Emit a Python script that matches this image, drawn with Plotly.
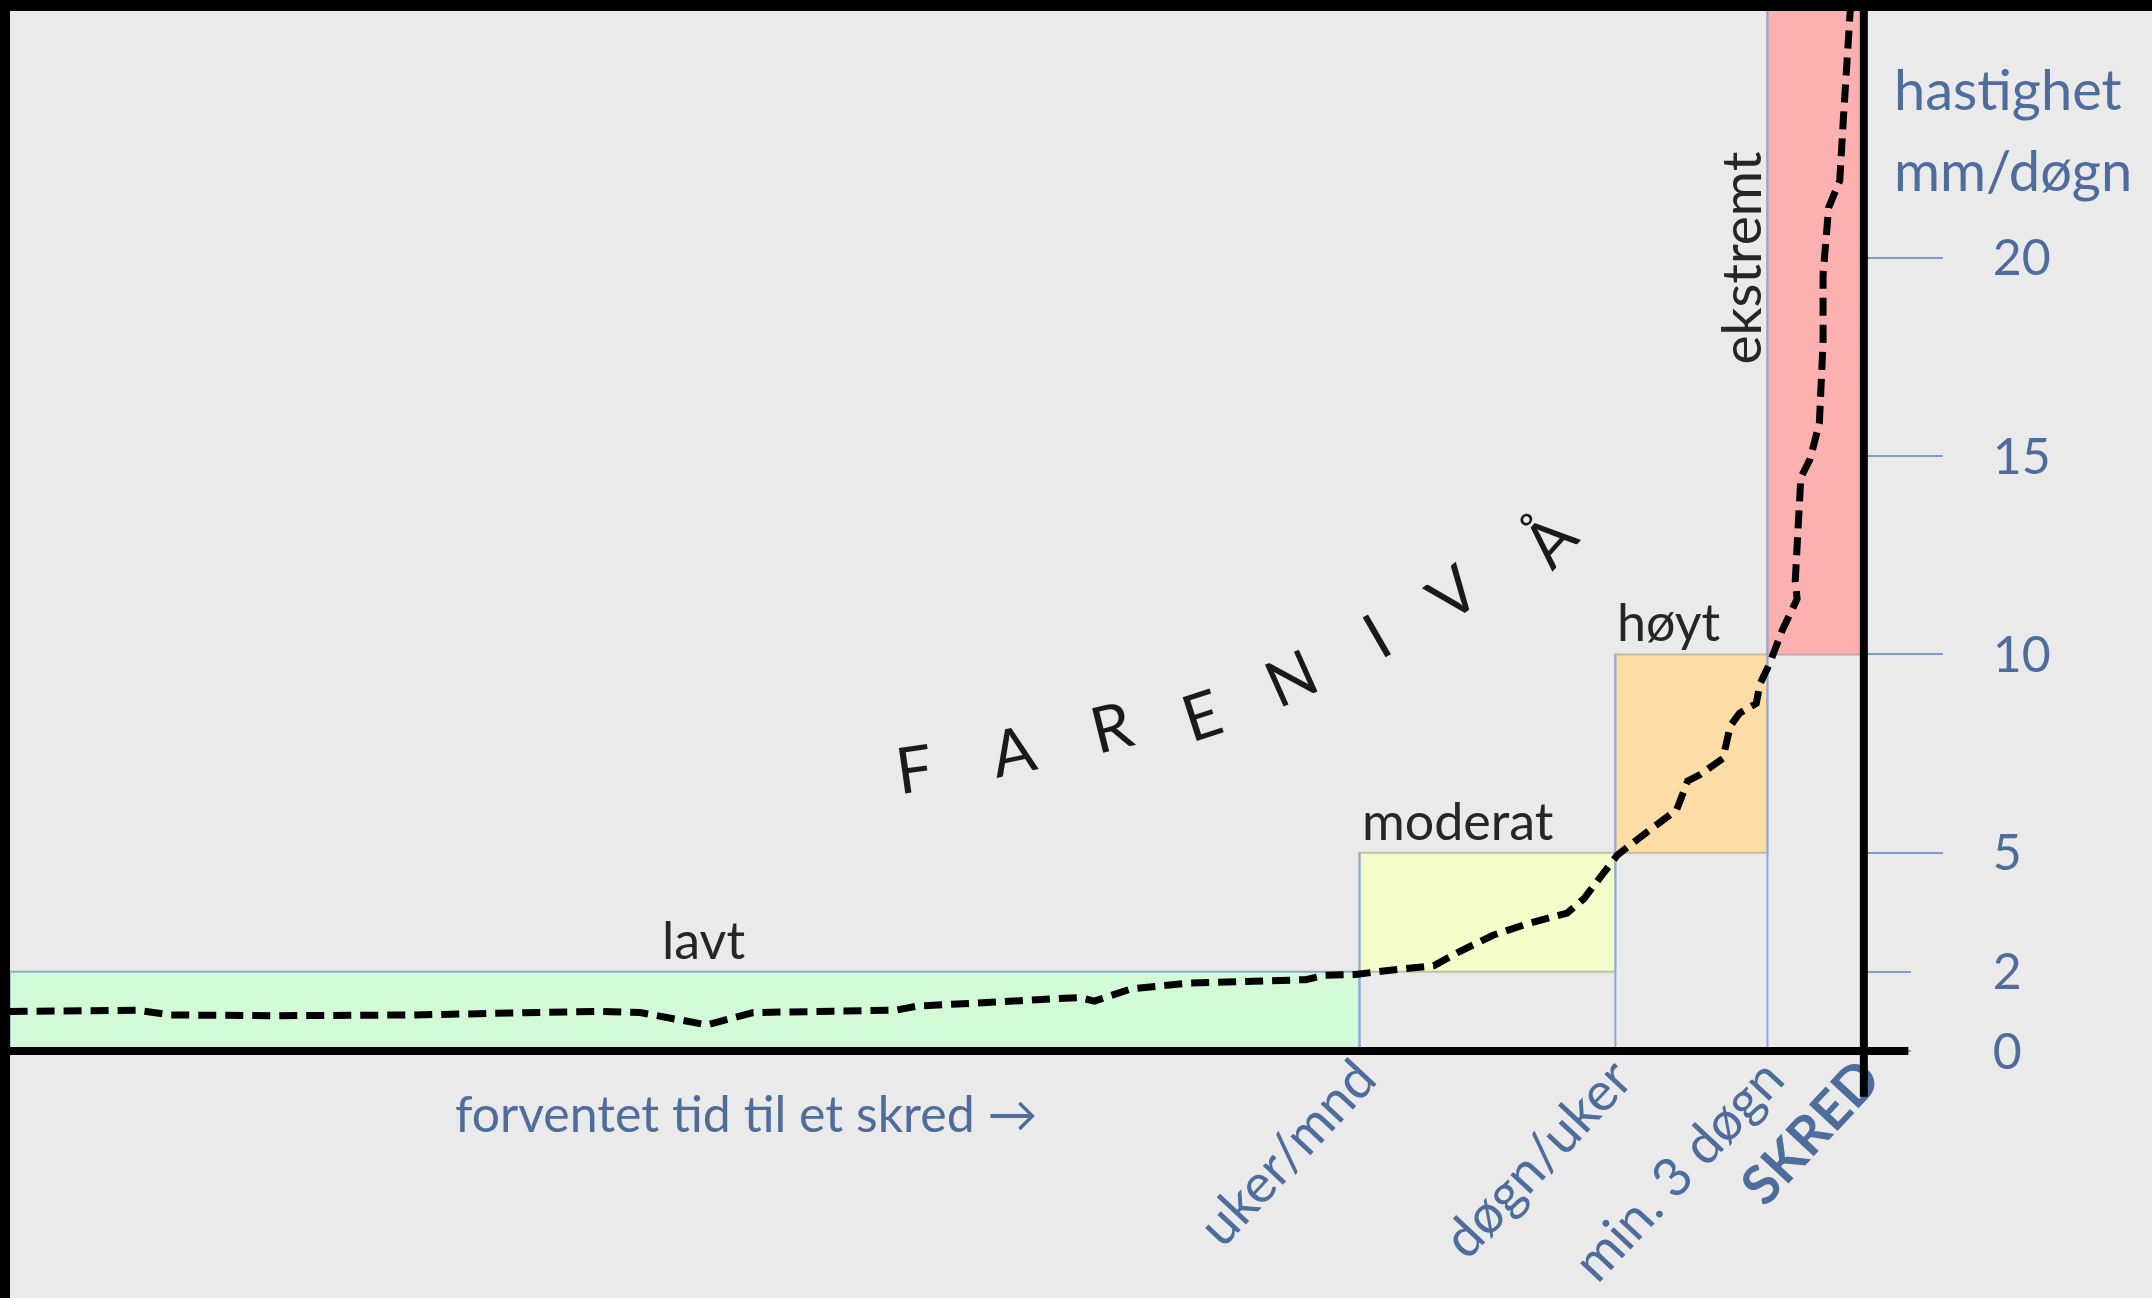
import plotly.graph_objects as go

# farenivå-boksene
levels = ["lavt", "moderat", "høyt", "ekstremt"]
level_x0 = [0, 72.8, 86.6, 94.8]
level_x1 = [72.8, 86.6, 94.8, 100]
level_lo = [0, 2, 5, 10]
level_hi = [2, 5, 10, 27]

# forventet tid til skred (x-aksen)
time_pos = [72.8, 86.6, 94.8, 100]
time_labels = ["uker/mnd", "døgn/uker", "min. 3 døgn", "<b>SKRED</b>"]

# hastighet mm/døgn (y-aksen)
speed_major = [5, 10, 15, 20]
speed_minor = [0, 2]

# forskyvningskurve
curve_x = [0, 6.9, 8.7, 14.3, 21.7, 31.8, 34.0, 37.6, 40.1, 47.8, 48.9, 57.7, 58.5, 60.5,
           63.5, 69.9, 70.9, 72.6, 74.1, 76.8, 78.2, 80.0, 81.8, 84.0, 84.9, 86.7, 88.5,
           89.9, 90.5, 91.2, 92.4, 92.8, 93.3, 94.2, 94.4, 94.9, 95.6, 96.4, 96.3, 96.6,
           97.1, 97.6, 97.8, 97.8, 98.1, 98.7, 98.9, 99.1, 99.3]
curve_y = [1.00, 1.03, 0.91, 0.89, 0.91, 1.00, 0.97, 0.66, 0.97, 1.03, 1.13, 1.35, 1.26, 1.57,
           1.71, 1.80, 1.91, 1.93, 2.02, 2.15, 2.51, 2.92, 3.20, 3.48, 3.84, 4.94, 5.59,
           6.08, 6.81, 6.98, 7.38, 8.20, 8.52, 8.77, 9.26, 9.75, 10.61, 11.40, 11.85, 14.46,
           14.93, 15.83, 17.88, 19.57, 21.27, 21.95, 23.54, 25.25, 26.49]

title_letters = ["F", "A", "R", "E", "N", "I", "V", "Å"]

FONT = "Lato"
BLUE_TXT = "#4f6d9c"
BLUE_LINE = "#8ea8d8"
fills = ["#d3fad6", "#f4fcc9", "#fddca6", "#fcb0b0"]
edges = [BLUE_LINE, "#b9c3a6", "#c8b89c", "#c7a7ad"]

XR = [-0.518, 115.54]
YR = [-6.228, 26.505]
x_frac = (100 - XR[0]) / (XR[1] - XR[0])
y_frac = (0 - YR[0]) / (YR[1] - YR[0])

fig = go.Figure()

fig.add_trace(go.Scatter(x=curve_x, y=curve_y, mode="lines",
                         line=dict(color="black", width=7, dash="18px,9px"),
                         hoverinfo="skip", showlegend=False))
# tom trace slik at den andre y-aksen (0 og 2) blir tegnet
fig.add_trace(go.Scatter(x=[None], y=[None], yaxis="y2", mode="lines",
                         hoverinfo="skip", showlegend=False))

# boksene
for i in range(len(levels)):
    fig.add_shape(type="rect", xref="x", yref="y", x0=level_x0[i], x1=level_x1[i],
                  y0=level_lo[i], y1=level_hi[i], fillcolor=fills[i],
                  line=dict(color=edges[i], width=2), layer="below")
for i in range(1, len(levels)):
    fig.add_shape(type="line", xref="x", yref="y", x0=level_x0[i], x1=level_x0[i],
                  y0=0, y1=level_hi[i], line=dict(color=BLUE_LINE, width=2), layer="below")

# akselinjer
fig.add_shape(type="line", xref="x", yref="y", x0=XR[0], x1=102.4, y0=0, y1=0,
              line=dict(color="black", width=8), layer="above")
fig.add_shape(type="line", xref="x", yref="y", x0=100, x1=100, y0=-1.15, y1=YR[1],
              line=dict(color="black", width=8), layer="above")
# ramme øverst og til venstre
fig.add_shape(type="rect", xref="paper", yref="paper", x0=0, x1=1, y0=1 - 11 / 1298, y1=1,
              fillcolor="black", line=dict(width=0), layer="above")
fig.add_shape(type="rect", xref="paper", yref="paper", x0=0, x1=10 / 2152, y0=0, y1=1,
              fillcolor="black", line=dict(width=0), layer="above")

txt = dict(family=FONT, size=52, color="#262626")
fig.add_annotation(x=37.4, y=2, text=levels[0], showarrow=False, yanchor="bottom", font=txt)
fig.add_annotation(x=level_x0[1], y=5, text=levels[1], showarrow=False, xanchor="left",
                   yanchor="bottom", font=txt)
fig.add_annotation(x=level_x0[2], y=10, text=levels[2], showarrow=False, xanchor="left",
                   yanchor="bottom", font=txt)
fig.add_annotation(x=93.3, y=20.0, text=levels[3], showarrow=False, textangle=-90,
                   font=dict(family=FONT, size=55, color="#262626"))

# FARENIVÅ langs en bue
letter_pos = [(48.8, 7.15, -8), (54.1, 7.6, -12), (59.4, 8.2, -14), (64.3, 8.5, -18),
              (69.1, 9.45, -24), (73.7, 10.5, -30), (77.8, 11.6, -38), (83.0, 12.9, -48)]
for ch, (lx, ly, ang) in zip(title_letters, letter_pos):
    fig.add_annotation(x=lx, y=ly, text=ch, showarrow=False, textangle=ang,
                       font=dict(family=FONT, size=64, color="#1a1a1a"))

fig.add_annotation(x=39.7, y=-1.56, text="forventet tid til et skred →", showarrow=False,
                   font=dict(family=FONT, size=50, color=BLUE_TXT))
fig.add_annotation(x=101.5, y=24.27, text="hastighet", showarrow=False, xanchor="left",
                   font=dict(family=FONT, size=56, color=BLUE_TXT))
fig.add_annotation(x=101.5, y=22.22, text="mm/døgn", showarrow=False, xanchor="left",
                   font=dict(family=FONT, size=56, color=BLUE_TXT))

axis_font = dict(family=FONT, size=50, color=BLUE_TXT)
fig.update_layout(
    width=2152, height=1298,
    margin=dict(l=0, r=0, t=0, b=0),
    paper_bgcolor="#eaeaea", plot_bgcolor="#eaeaea",
    showlegend=False,
    xaxis=dict(range=XR, anchor="free", position=y_frac, tickvals=time_pos,
               ticktext=time_labels, tickangle=-47, ticks="", ticklabelstandoff=-16,
               tickfont=dict(family=FONT, size=54, color=BLUE_TXT),
               showgrid=False, zeroline=False, showline=False, automargin=False),
    yaxis=dict(range=YR, anchor="free", position=x_frac, side="right",
               tickvals=speed_major, ticks="outside", ticklen=78, tickwidth=2,
               tickcolor="#7f9cd0", tickfont=axis_font, ticklabelstandoff=40,
               showgrid=False, zeroline=False, showline=False, automargin=False),
    yaxis2=dict(range=YR, overlaying="y", anchor="free", position=x_frac, side="right",
                tickvals=speed_minor, ticks="outside", ticklen=46, tickwidth=2,
                tickcolor="#7f9cd0", tickfont=axis_font, ticklabelstandoff=72,
                showgrid=False, zeroline=False, showline=False, automargin=False),
)

fig.write_html("out.html", config={"displayModeBar": False},
               post_script="document.body.style.margin='0px';")
